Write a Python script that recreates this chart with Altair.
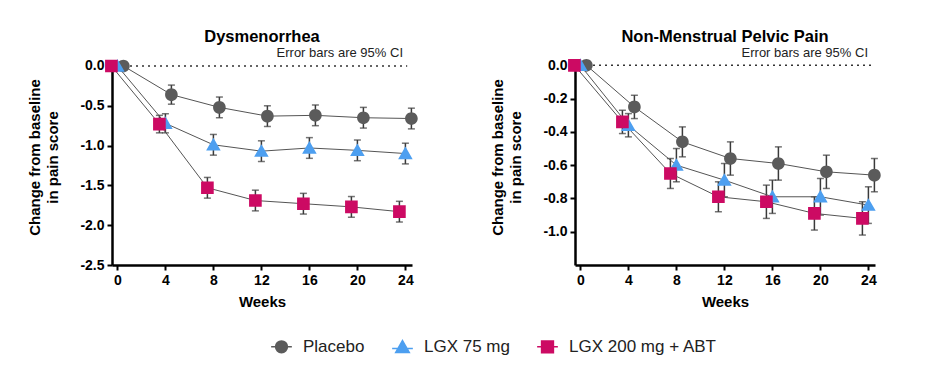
import altair as alt
import pandas as pd

# ---------------- data ----------------
weeks = [0, 4, 8, 12, 16, 20, 24]
series_names = ["Placebo", "LGX 75 mg", "LGX 200 mg + ABT"]
series_colors = ["#5b5b5b", "#4d9ff0", "#cc0a63"]
dodge = [0.5, 0.0, -0.5]

# Dysmenorrhea: mean change and half-width of 95% CI
dys_placebo = [0.0, -0.36, -0.52, -0.63, -0.62, -0.65, -0.66]
dys_placebo_ci = [0.0, 0.12, 0.13, 0.13, 0.13, 0.13, 0.13]
dys_lgx75 = [0.0, -0.72, -0.99, -1.07, -1.03, -1.06, -1.10]
dys_lgx75_ci = [0.0, 0.12, 0.13, 0.13, 0.13, 0.13, 0.13]
dys_lgx200 = [0.0, -0.73, -1.53, -1.69, -1.73, -1.77, -1.83]
dys_lgx200_ci = [0.0, 0.11, 0.13, 0.13, 0.13, 0.13, 0.13]

# Non-menstrual pelvic pain
nmpp_placebo = [0.0, -0.25, -0.46, -0.56, -0.59, -0.64, -0.66]
nmpp_placebo_ci = [0.0, 0.07, 0.09, 0.10, 0.10, 0.10, 0.10]
nmpp_lgx75 = [0.0, -0.36, -0.60, -0.69, -0.79, -0.79, -0.84]
nmpp_lgx75_ci = [0.0, 0.07, 0.10, 0.10, 0.10, 0.11, 0.11]
nmpp_lgx200 = [0.0, -0.34, -0.65, -0.79, -0.82, -0.89, -0.92]
nmpp_lgx200_ci = [0.0, 0.07, 0.09, 0.09, 0.10, 0.10, 0.10]

dys_yticks = [0.0, -0.5, -1.0, -1.5, -2.0, -2.5]
nmpp_yticks = [0.0, -0.2, -0.4, -0.6, -0.8, -1.0]
note = "Error bars are 95% CI"

# symbol paths: marker plus short legend line (line invisible in plot: strokeWidth 0)
shape_paths = [
    "M-1.75,0H-1M1,0H1.75M1,0A1,1,0,1,1,-1,0A1,1,0,1,1,1,0Z",
    "M-1.75,0.25H-0.73M0.73,0.25H1.75M0,-1.1L1.15,0.9L-1.15,0.9Z",
    "M-1.75,0H-1M1,0H1.75M-1,-1H1V1H-1Z",
]

FONT = "Liberation Sans"


def build(values_list, ci_list):
    rows = []
    for name, off, vals, cis in zip(series_names, dodge, values_list, ci_list):
        for w, v, c in zip(weeks, vals, cis):
            rows.append({"series": name, "week": w + off, "value": v,
                         "lo": v - c, "hi": v + c, "ci": c})
    return pd.DataFrame(rows)


dys_df = build([dys_placebo, dys_lgx75, dys_lgx200],
               [dys_placebo_ci, dys_lgx75_ci, dys_lgx200_ci])
nmpp_df = build([nmpp_placebo, nmpp_lgx75, nmpp_lgx200],
                [nmpp_placebo_ci, nmpp_lgx75_ci, nmpp_lgx200_ci])

color_scale = alt.Scale(domain=series_names, range=series_colors)
shape_scale = alt.Scale(domain=series_names, range=shape_paths)
XDOM = [-0.45, 24.55]

label_expr = "replace(format(datum.value, '.1f'), '\u2212', '-')"


def panel(df, title, ydom, yticks, zero_end, note_x):
    xsc = alt.Scale(domain=XDOM, nice=False, zero=False)
    ysc = alt.Scale(domain=ydom, nice=False, zero=False)
    x_ax = alt.Axis(values=weeks, title="Weeks", format="d")
    y_ax = alt.Axis(values=yticks, labelExpr=label_expr, titleY=95,
                    title=["Change from baseline", "in pain score"])

    def X(f):
        return alt.X(f, scale=xsc, axis=x_ax, title="Weeks")

    def Y(f):
        return alt.Y(f, scale=ysc, axis=y_ax, title=["Change from baseline", "in pain score"])

    zero = alt.Chart(pd.DataFrame({"x0": [XDOM[0]], "x1": [zero_end], "y": [0.0]})).mark_rule(
        strokeDash=[2, 4], color="#333333", strokeWidth=1.5
    ).encode(x=X("x0:Q"), x2="x1:Q", y=Y("y:Q"))

    err = df[df["ci"] > 0]
    bars = alt.Chart(err).mark_rule(color="#3a3a3a", strokeWidth=1.5).encode(
        x=X("week:Q"), y=Y("lo:Q"), y2="hi:Q",
    )
    cap_lo = alt.Chart(err).mark_tick(color="#3a3a3a", orient="horizontal",
                                      size=7, thickness=1.5).encode(x=X("week:Q"), y=Y("lo:Q"))
    cap_hi = alt.Chart(err).mark_tick(color="#3a3a3a", orient="horizontal",
                                      size=7, thickness=1.5).encode(x=X("week:Q"), y=Y("hi:Q"))
    lines = alt.Chart(df).mark_line(color="#555555", strokeWidth=1).encode(
        x=X("week:Q"), y=Y("value:Q"), detail="series:N",
    )
    points = alt.Chart(df).mark_point(filled=True, size=160, opacity=1, strokeWidth=0).encode(
        x=X("week:Q"),
        y=Y("value:Q"),
        color=alt.Color("series:N", scale=color_scale, title=None,
                        legend=alt.Legend(orient="none", legendX=161, legendY=276,
                                          direction="horizontal", title=None)),
        stroke=alt.Stroke("series:N", scale=color_scale, title=None),
        shape=alt.Shape("series:N", scale=shape_scale, title=None),
    )
    txt = alt.Chart(pd.DataFrame({"t": [note]})).mark_text(
        align="right", baseline="alphabetic", font=FONT, fontSize=13, color="#222222"
    ).encode(x=alt.value(note_x), y=alt.value(-5), text="t:N")

    return alt.layer(zero, bars, cap_lo, cap_hi, lines, points, txt).properties(
        width=300, height=203,
        title=alt.TitleParams(title, font=FONT, fontSize=16.5, fontWeight="bold",
                              anchor="middle", color="#000000", offset=2),
    )


left = panel(dys_df, "Dysmenorrhea", [-2.5, 0.05], dys_yticks, 24.15, 291)
right = panel(nmpp_df, "Non-Menstrual Pelvic Pain", [-1.2, 0.02], nmpp_yticks, 24.55, 293)

chart = alt.hconcat(left, right, spacing=67).properties(
    padding={"left": 19, "top": 20, "right": 5, "bottom": 5}
).configure_view(stroke=None).configure_axis(
    grid=False,
    domainColor="#000000", domainWidth=2.5,
    tickColor="#000000", tickWidth=2, tickSize=5,
    labelFont=FONT, labelFontWeight="bold", labelFontSize=14, labelColor="#000000",
    labelPadding=3,
    titleFont=FONT, titleFontWeight="bold", titleFontSize=15, titleColor="#000000",
    titleLineHeight=18,
).configure_axisY(titlePadding=19).configure_axisX(titlePadding=7).configure_legend(
    labelFont=FONT, labelFontSize=17, labelColor="#222222",
    symbolSize=140, symbolStrokeWidth=1.5, labelOffset=13, columnPadding=24,
    padding=0,
)

chart.save("out.html", embed_options={"renderer": "svg", "actions": False})
